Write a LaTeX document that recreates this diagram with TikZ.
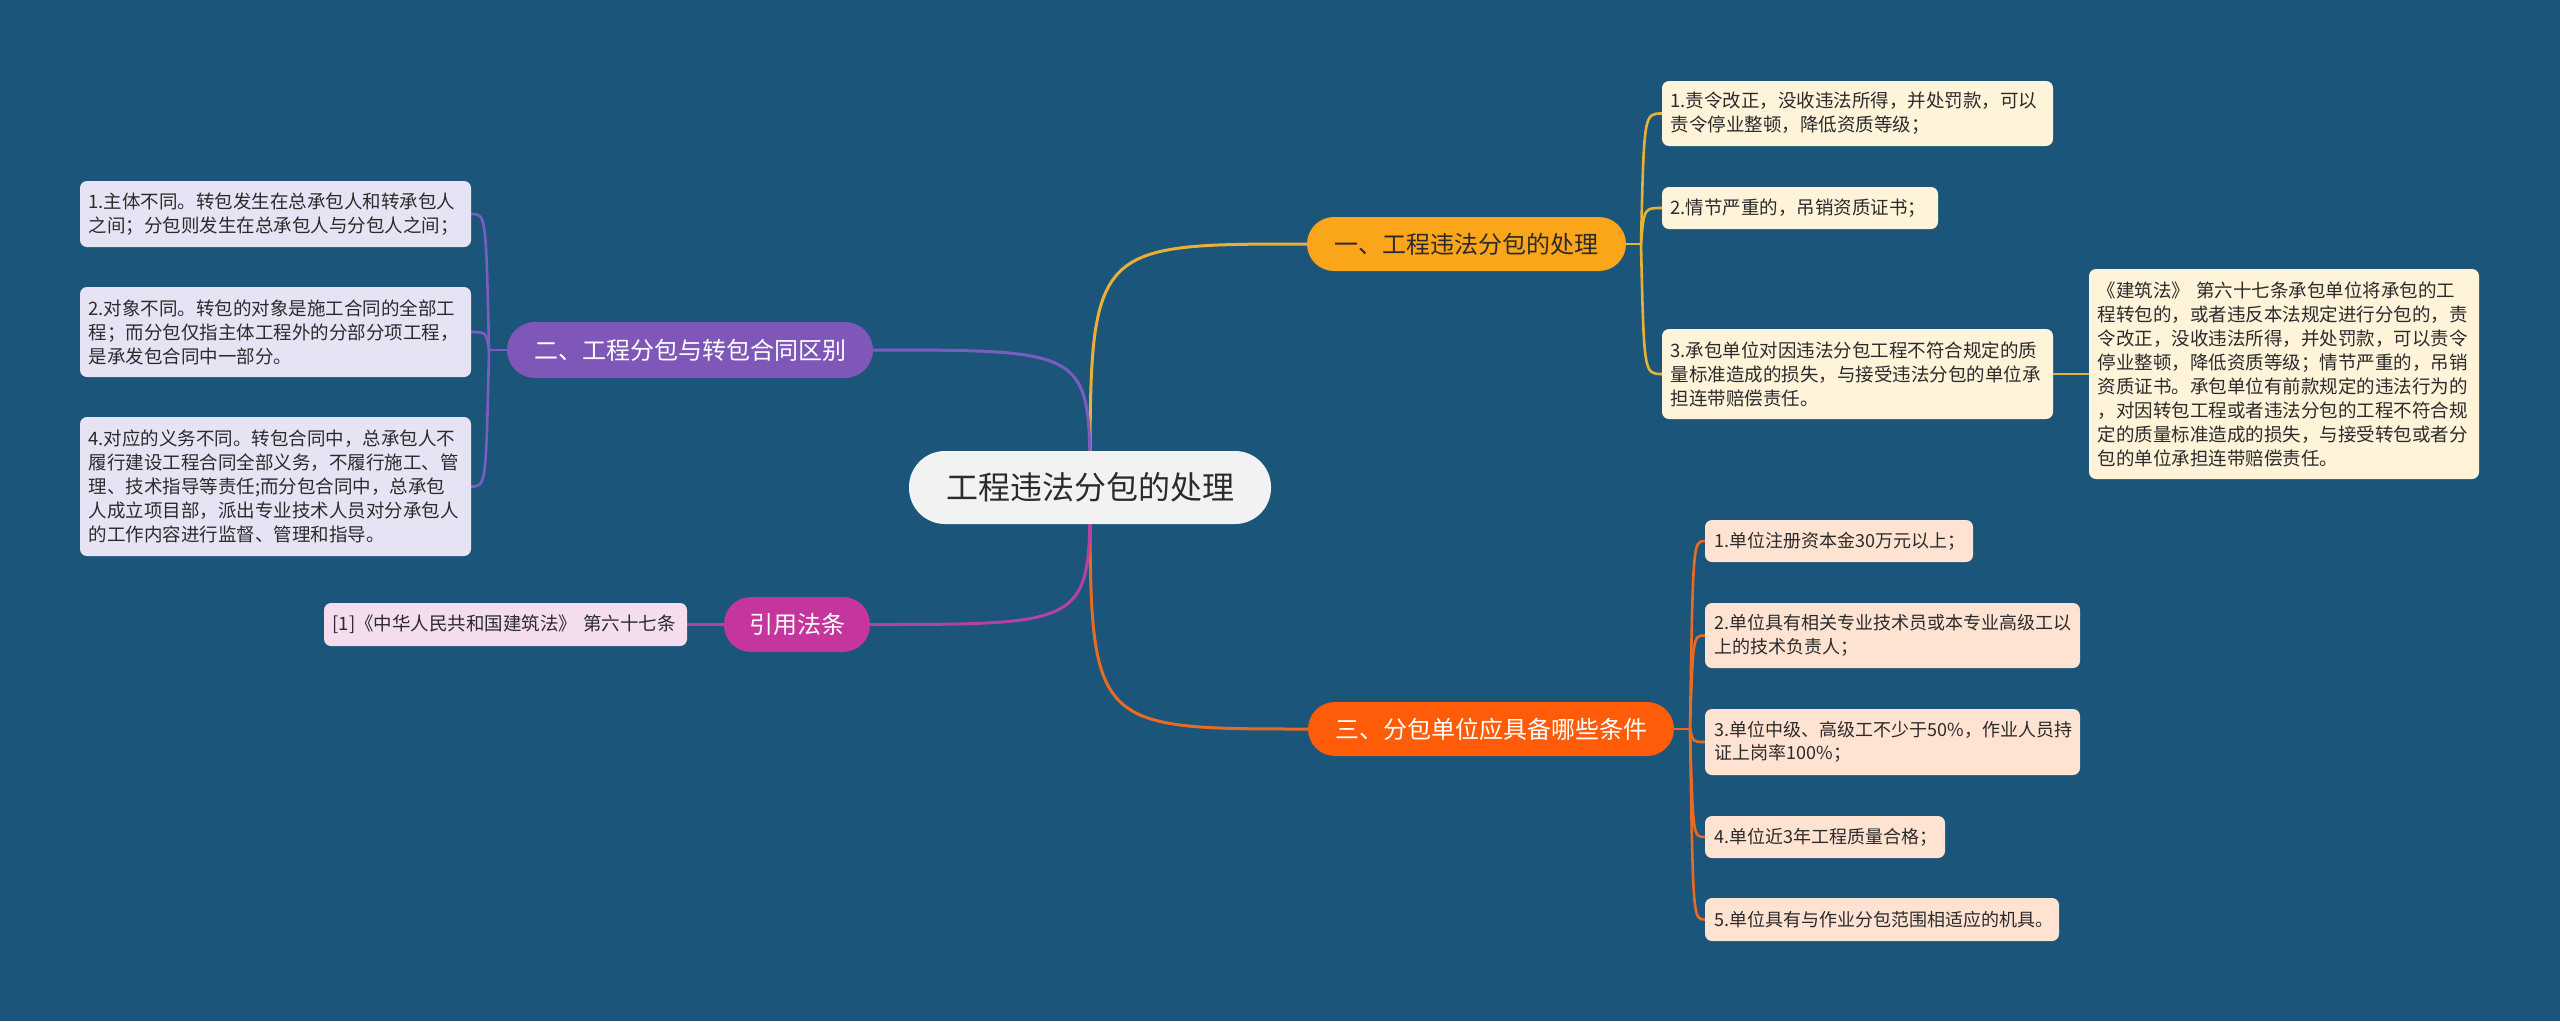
\documentclass[tikz,border=0pt]{standalone}
\usepackage{fontspec}
\setmainfont{Noto Sans CJK SC}
\pgfdeclarelayer{bgl}
\pgfdeclarelayer{edgel}
\pgfsetlayers{bgl,edgel,main}
\definecolor{bgc}{HTML}{1B5579}
\definecolor{txt}{HTML}{2B2B2B}
\definecolor{ctrfill}{HTML}{F2F2F2}
\definecolor{cone}{HTML}{E8B037}
\definecolor{bone}{HTML}{FAA51A}
\definecolor{lone}{HTML}{FFF3DA}
\definecolor{ctwo}{HTML}{7B5CC0}
\definecolor{btwo}{HTML}{7E57B8}
\definecolor{ltwo}{HTML}{E8E3F4}
\definecolor{cthree}{HTML}{E96A24}
\definecolor{bthree}{HTML}{FF5C0A}
\definecolor{lthree}{HTML}{FFE3D2}
\definecolor{cfour}{HTML}{B63FA8}
\definecolor{bfour}{HTML}{C4369C}
\definecolor{lfour}{HTML}{F5DDF0}
\begin{document}
\begin{tikzpicture}[x=1pt,y=-1pt,
  leafbox/.style={rectangle, rounded corners=7pt, inner xsep=8.5pt, inner ysep=0pt, align=left,
    font=\fontsize{18.5}{24}\selectfont, text=txt},
  smallleaf/.style={leafbox, inner xsep=9.5pt, font=\fontsize{18}{23.5}\selectfont},
  branchbox/.style={rectangle, inner sep=0pt, align=center,
    font=\fontsize{24}{28}\selectfont},
  mainline/.style={line width=3pt, line cap=round},
  leafline/.style={line width=2.6pt, line cap=round}
]
\useasboundingbox (0,0) rectangle (2560,1021);
\begin{pgfonlayer}{bgl}
\fill[bgc] (0,0) rectangle (2560,1021);
\end{pgfonlayer}

% central node
\node[rectangle, rounded corners=36pt, fill=ctrfill, minimum width=362pt, minimum height=73pt, inner sep=0pt,
  font=\fontsize{32}{36}\selectfont, text=txt] (ctr) at (1090,487.5) {工程违法分包的处理};

% branches
\node[branchbox, rounded corners=27pt, fill=bone, text=txt, minimum width=319pt, minimum height=54pt] (b1) at (1466.5,244) {一、工程违法分包的处理};
\node[branchbox, rounded corners=28pt, fill=btwo, text=white, minimum width=366pt, minimum height=56pt] (b2) at (690,350) {二、工程分包与转包合同区别};
\node[branchbox, rounded corners=27pt, fill=bthree, text=white, minimum width=366pt, minimum height=54pt] (b3) at (1491,729) {三、分包单位应具备哪些条件};
\node[branchbox, rounded corners=27pt, fill=bfour, text=white, minimum width=146pt, minimum height=55pt] (b4) at (797,624.5) {引用法条};

% branch 1 leaves
\node[leafbox, fill=lone, minimum width=391pt, minimum height=65pt, text width=374pt] (l1) at (1857.5,113.5) {1.责令改正，没收违法所得，并处罚款，可以\\责令停业整顿，降低资质等级；};
\node[leafbox, fill=lone, minimum width=276pt, minimum height=42pt, text width=259pt] (l2) at (1800,208) {2.情节严重的，吊销资质证书；};
\node[leafbox, fill=lone, minimum width=391pt, minimum height=90pt, text width=374pt] (l3) at (1857.5,374) {3.承包单位对因违法分包工程不符合规定的质\\量标准造成的损失，与接受违法分包的单位承\\担连带赔偿责任。};
\node[leafbox, fill=lone, minimum width=390pt, minimum height=210pt, text width=373pt] (l3c) at (2284,374) {《建筑法》 第六十七条承包单位将承包的工\\程转包的，或者违反本法规定进行分包的，责\\令改正，没收违法所得，并处罚款，可以责令\\停业整顿，降低资质等级；情节严重的，吊销\\资质证书。承包单位有前款规定的违法行为的\\，对因转包工程或者违法分包的工程不符合规\\定的质量标准造成的损失，与接受转包或者分\\包的单位承担连带赔偿责任。};

% branch 2 leaves
\node[leafbox, fill=ltwo, minimum width=391pt, minimum height=66pt, text width=374pt] (la) at (275.5,214) {1.主体不同。转包发生在总承包人和转承包人\\之间；分包则发生在总承包人与分包人之间；};
\node[leafbox, fill=ltwo, minimum width=391pt, minimum height=90pt, text width=374pt] (lb) at (275.5,332) {2.对象不同。转包的对象是施工合同的全部工\\程；而分包仅指主体工程外的分部分项工程，\\是承发包合同中一部分。};
\node[leafbox, fill=ltwo, minimum width=391pt, minimum height=139pt, text width=374pt] (lc) at (275.5,486.5) {4.对应的义务不同。转包合同中，总承包人不\\履行建设工程合同全部义务，不履行施工、管\\理、技术指导等责任;而分包合同中，总承包\\人成立项目部，派出专业技术人员对分承包人\\的工作内容进行监督、管理和指导。};

% branch 3 leaves
\node[smallleaf, fill=lthree, minimum width=268pt, minimum height=42pt, text width=249pt] (r1) at (1839,541) {1.单位注册资本金30万元以上；};
\node[smallleaf, fill=lthree, minimum width=375pt, minimum height=65pt, text width=356pt] (r2) at (1892.5,635.5) {2.单位具有相关专业技术员或本专业高级工以\\上的技术负责人；};
\node[smallleaf, fill=lthree, minimum width=375pt, minimum height=66pt, text width=356pt] (r3) at (1892.5,742) {3.单位中级、高级工不少于50\%，作业人员持\\证上岗率100\%；};
\node[smallleaf, fill=lthree, minimum width=240pt, minimum height=42pt, text width=221pt] (r4) at (1825,837) {4.单位近3年工程质量合格；};
\node[smallleaf, fill=lthree, minimum width=354pt, minimum height=43pt, text width=335pt] (r5) at (1882,919.5) {5.单位具有与作业分包范围相适应的机具。};

% branch 4 leaf
\node[leafbox, fill=lfour, minimum width=363pt, minimum height=43pt, text width=346pt] (cite) at (505.5,624.5) {[1]《中华人民共和国建筑法》\ 第六十七条};

% trunk points
\coordinate (t1) at (1641,244);
\coordinate (t2) at (489,350);
\coordinate (t3) at (1690,729);

\begin{pgfonlayer}{edgel}
% main connectors
\draw[mainline, cone] (ctr.center) .. controls (1090,244) .. (b1.west);
\draw[mainline, ctwo] (ctr.center) .. controls (1090,350) .. (b2.east);
\draw[mainline, cthree] (ctr.center) .. controls (1090,729) .. (b3.west);
\draw[mainline, cfour] (ctr.center) .. controls (1090,624.5) .. (b4.east);

% branch 1
\draw[leafline, cone] (b1.east) -- (t1);
\draw[leafline, cone] (t1) .. controls (1644,113.5) .. (l1.west);
\draw[leafline, cone] (t1) .. controls (1644,208) .. (l2.west);
\draw[leafline, cone] (t1) .. controls (1644,374) .. (l3.west);
\draw[leafline, cone] (l3.east) -- (l3c.west);

% branch 2
\draw[leafline, ctwo] (b2.west) -- (t2);
\draw[leafline, ctwo] (t2) .. controls (486,214) .. (la.east);
\draw[leafline, ctwo] (t2) .. controls (486,332) .. (lb.east);
\draw[leafline, ctwo] (t2) .. controls (486,486.5) .. (lc.east);

% branch 3
\draw[leafline, cthree] (b3.east) -- (t3);
\draw[leafline, cthree] (t3) .. controls (1693,541) .. (r1.west);
\draw[leafline, cthree] (t3) .. controls (1693,635.5) .. (r2.west);
\draw[leafline, cthree] (t3) .. controls (1693,742) .. (r3.west);
\draw[leafline, cthree] (t3) .. controls (1693,837) .. (r4.west);
\draw[leafline, cthree] (t3) .. controls (1693,919.5) .. (r5.west);

% branch 4
\draw[leafline, cfour] (b4.west) -- (cite.east);
\end{pgfonlayer}
\end{tikzpicture}
\end{document}
